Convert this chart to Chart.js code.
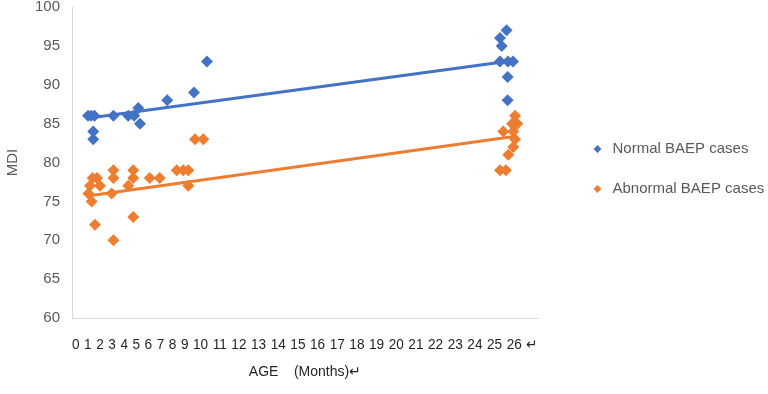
<!DOCTYPE html>
<html>
<head>
<meta charset="utf-8">
<script src="https://cdn.jsdelivr.net/npm/chart.js@4"></script>
<style>
  html, body { margin: 0; padding: 0; background: #fff; }
  #wrap { width: 768px; height: 394px; position: relative; }
</style>
</head>
<body>
<div id="wrap"><canvas id="mdiChart"></canvas></div>
<script>
// データ
const normalAge = [0.93, 1.1, 1.3, 1.23, 1.23, 2.4, 3.26, 3.6, 3.84, 3.94, 5.52, 7.07, 7.82,
                   25.18, 24.8, 24.9, 24.8, 25.26, 25.55, 25.24, 25.24];
const normalMdi = [86, 86, 86, 84, 83, 86, 86, 86, 87, 85, 88, 89, 93,
                   97, 96, 95, 93, 93, 93, 91, 88];

const abnormalAge = [1.2, 1.45, 1.04, 1.62, 0.95, 1.14, 1.33, 2.3, 2.4, 2.4, 2.4,
                     3.55, 3.55, 3.26, 3.55, 4.5, 5.08, 6.07, 6.45, 6.74, 6.74, 7.13, 7.61,
                     25.67, 25.5, 25.8, 24.99, 25.57, 25.67, 25.57, 25.28, 24.8, 25.14];
const abnormalMdi = [78, 78, 77, 77, 76, 75, 72, 76, 79, 78, 70,
                     79, 78, 77, 73, 78, 78, 79, 79, 79, 77, 83, 83,
                     86, 85, 85, 84, 84, 83, 82, 81, 79, 79];

// 近似直線（両端）
const trendAge = [0.9, 25.5];
const normalTrend = [85.7, 93.1];
const abnormalTrend = [75.7, 83.3];

// 軸ラベル
const xTickLabels = [0, 1, 2, 3, 4, 5, 6, 7, 8, 9, 10, 11, 12, 13, 14, 15, 16, 17, 18, 19, 20, 21, 22, 23, 24, 25, 26];
const yTicks = [60, 65, 70, 75, 80, 85, 90, 95, 100];
const seriesNames = ['Normal BAEP cases', 'Abnormal BAEP cases'];
const xTitle = 'AGE    (Months)\u21b5';
const yTitle = 'MDI';

const BLUE = '#4472C4';
const ORANGE = '#ED7D31';
const GREY = '#595959';

function toPoints(xs, ys) {
    return xs.map((x, i) => ({ x: x, y: ys[i] }));
}

const ctx = document.getElementById('mdiChart').getContext('2d');
new Chart(ctx, {
    type: 'scatter',
    data: {
        datasets: [
            { label: seriesNames[0], data: toPoints(normalAge, normalMdi),
              backgroundColor: BLUE, borderColor: BLUE, pointStyle: 'rectRot', pointRadius: 6, borderWidth: 0 },
            { label: seriesNames[1], data: toPoints(abnormalAge, abnormalMdi),
              backgroundColor: ORANGE, borderColor: ORANGE, pointStyle: 'rectRot', pointRadius: 6, borderWidth: 0 },
            { type: 'line', data: toPoints(trendAge, normalTrend), borderColor: BLUE, borderWidth: 3,
              pointRadius: 0, fill: false, showLine: true },
            { type: 'line', data: toPoints(trendAge, abnormalTrend), borderColor: ORANGE, borderWidth: 3,
              pointRadius: 0, fill: false, showLine: true }
        ]
    },
    options: {
        responsive: true,
        maintainAspectRatio: false,
        animation: false,
        layout: { padding: 0 },
        plugins: {
            tooltip: { enabled: false },
            legend: {
                position: 'right',
                fullSize: false,
                maxWidth: 203,
                title: { display: true, text: '', font: { size: 13, lineHeight: 1 }, padding: 0 },
                labels: {
                    usePointStyle: true,
                    boxHeight: 5.5,
                    padding: 25,
                    color: GREY,
                    font: { family: 'Liberation Sans', size: 15 },
                    filter: item => item.datasetIndex < 2
                }
            }
        },
        scales: {
            x: {
                type: 'linear',
                min: 0,
                max: 27,
                grid: { display: false, drawTicks: false },
                border: { color: '#d9d9d9', width: 1 },
                ticks: { display: false },
                title: {
                    display: true,
                    text: [xTickLabels.join('\u2004') + '\u2004\u21b5', xTitle],
                    color: '#262626',
                    font: { family: 'Liberation Sans', size: 14, lineHeight: 27 / 14 },
                    padding: { top: 0, bottom: 8.5 }
                },
                afterFit: s => { s.height = 76; }
            },
            y: {
                min: 60,
                max: 100,
                grid: { display: false, drawTicks: false },
                border: { color: '#d9d9d9', width: 1 },
                ticks: {
                    stepSize: 5,
                    padding: 12,
                    color: GREY,
                    font: { family: 'Liberation Sans', size: 15, lineHeight: 1 },
                    callback: v => yTicks.includes(v) ? v : ''
                },
                title: {
                    display: true,
                    text: yTitle,
                    color: GREY,
                    font: { family: 'Liberation Sans', size: 15 },
                    padding: { top: 4, bottom: 4 }
                },
                afterFit: s => { s.width = 72; s.paddingTop = 7; s.paddingBottom = 0; }
            },
            // 右側の余白用（凡例とプロットの間）
            gap: {
                type: 'linear',
                position: 'right',
                grid: { display: false, drawTicks: false },
                border: { display: false },
                ticks: { display: false },
                afterFit: s => { s.width = 27; s.paddingTop = 0; s.paddingBottom = 0; }
            }
        }
    }
});
</script>
</body>
</html>
